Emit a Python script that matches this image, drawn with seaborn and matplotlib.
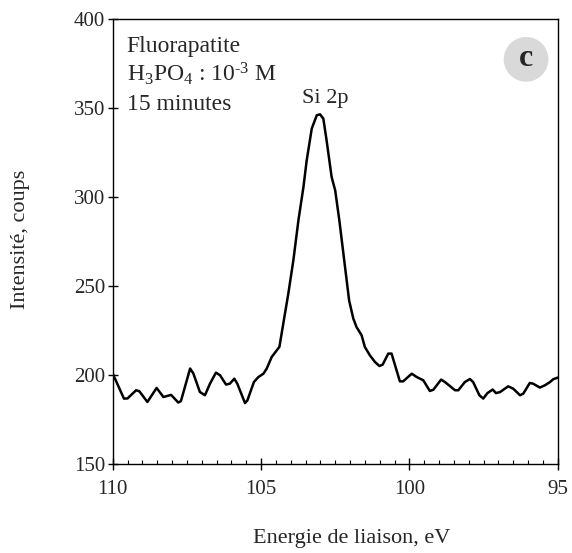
import matplotlib
matplotlib.use("Agg")
import matplotlib.pyplot as plt
from matplotlib.patches import Ellipse
from matplotlib.ticker import MultipleLocator
import pandas as pd
import seaborn as sns

# Si 2p spectrum
energy = [
    110.0, 109.62, 109.5, 109.21, 109.1, 108.83, 108.52, 108.29, 108.03, 107.79,
    107.7, 107.39, 107.28, 107.06, 106.89, 106.72, 106.52, 106.38, 106.18, 106.05,
    105.9, 105.8, 105.54, 105.46, 105.24, 105.09, 104.92, 104.81, 104.64, 104.47,
    104.38, 104.25, 104.08, 103.91, 103.74, 103.57, 103.46, 103.29, 103.12, 103.01,
    102.9, 102.79, 102.62, 102.5, 102.36, 102.03, 101.89, 101.78, 101.61, 101.5,
    101.33, 101.16, 101.01, 100.9, 100.71, 100.6, 100.32, 100.21, 99.92, 99.75,
    99.53, 99.31, 99.19, 98.93, 98.8, 98.46, 98.35, 98.13, 97.96, 97.85,
    97.64, 97.51, 97.37, 97.19, 97.08, 96.94, 96.67, 96.5, 96.27, 96.16,
    95.94, 95.83, 95.6, 95.43, 95.26, 95.15, 95.0,
]
intensity = [
    201.0, 186.9, 187.0, 191.6, 191.0, 185.0, 192.9, 187.8, 189.0, 184.7,
    185.5, 203.8, 201.0, 190.6, 188.8, 195.3, 201.5, 200.0, 194.8, 195.3,
    198.1, 195.3, 184.4, 185.9, 196.2, 199.0, 200.9, 203.7, 210.3, 214.0,
    216.0, 229.0, 245.9, 264.6, 287.0, 305.8, 320.8, 338.6, 346.1, 346.6,
    344.2, 332.0, 311.4, 303.9, 287.0, 242.0, 231.9, 227.1, 222.5, 215.9,
    211.2, 207.5, 205.2, 206.0, 212.2, 212.2, 196.6, 196.6, 200.9, 199.0,
    197.2, 191.2, 191.9, 197.6, 196.2, 191.6, 191.6, 196.2, 197.9, 196.2,
    188.8, 186.9, 190.0, 192.0, 190.0, 190.6, 193.8, 192.5, 188.8, 189.7,
    195.7, 195.3, 193.1, 194.4, 196.2, 197.8, 198.7,
]

info_lines = ["Fluorapatite", r"H$_3$PO$_4$ : 10$^{\text{-}3}$ M", "15 minutes"]
peak_label = "Si 2p"
peak_pos = (102.85, 352.8)
panel_letter = "c"

sns.set_theme(style="white")
plt.rcParams["font.family"] = ["Liberation Serif", "DejaVu Serif"]
plt.rcParams["mathtext.fontset"] = "custom"
plt.rcParams["mathtext.rm"] = "Liberation Serif"
plt.rcParams["mathtext.it"] = "Liberation Serif:italic"

df = pd.DataFrame({"energy": energy, "intensity": intensity})

fig = plt.figure(figsize=(5.72, 5.53), dpi=100)
ax = fig.add_axes([0.197, 0.1604, 0.778, 0.8047])

sns.lineplot(data=df, x="energy", y="intensity", color="black",
             linewidth=1.8, ax=ax, sort=False)

ax.set_xlim(110, 95)
ax.set_ylim(150, 400)
ax.xaxis.set_major_locator(MultipleLocator(5))
ax.xaxis.set_minor_locator(MultipleLocator(0.5))
ax.yaxis.set_major_locator(MultipleLocator(50))

for side in ["left", "right", "top", "bottom"]:
    ax.spines[side].set_visible(True)
    ax.spines[side].set_color("black")
    ax.spines[side].set_linewidth(1.0)

ax.tick_params(axis="both", which="major", width=1.0, color="black",
               labelsize=15, direction="inout")
ax.tick_params(axis="x", which="major", length=8, pad=7, bottom=True)
ax.tick_params(axis="y", which="major", length=7, pad=2, left=True)
ax.tick_params(axis="x", which="minor", direction="in", length=3,
               width=0.8, color="black", bottom=True)

ax.set_xlabel("Energie de liaison, eV", fontsize=16)
ax.set_ylabel("Intensité, coups", fontsize=16)
ax.xaxis.set_label_coords(0.537, -0.166)
ax.yaxis.set_label_coords(-0.207, 0.506)
ax.xaxis.label.set_va("center")
ax.yaxis.label.set_va("center")

for line, y in zip(info_lines, [0.927, 0.860, 0.796]):
    ax.text(0.0315, y, line, transform=ax.transAxes,
            fontsize=17, va="baseline", ha="left")

ax.text(peak_pos[0], peak_pos[1], peak_label, fontsize=16,
        ha="center", va="baseline")

circ = Ellipse((0.929, 0.910), 0.1005, 0.1005, transform=ax.transAxes,
               facecolor="#d9d9d9", edgecolor="none", zorder=1)
ax.add_patch(circ)
ax.text(0.929, 0.913, panel_letter, transform=ax.transAxes, fontsize=23,
        fontweight="bold", ha="center", va="center", zorder=2)

fig.savefig("out.png", dpi=100)
